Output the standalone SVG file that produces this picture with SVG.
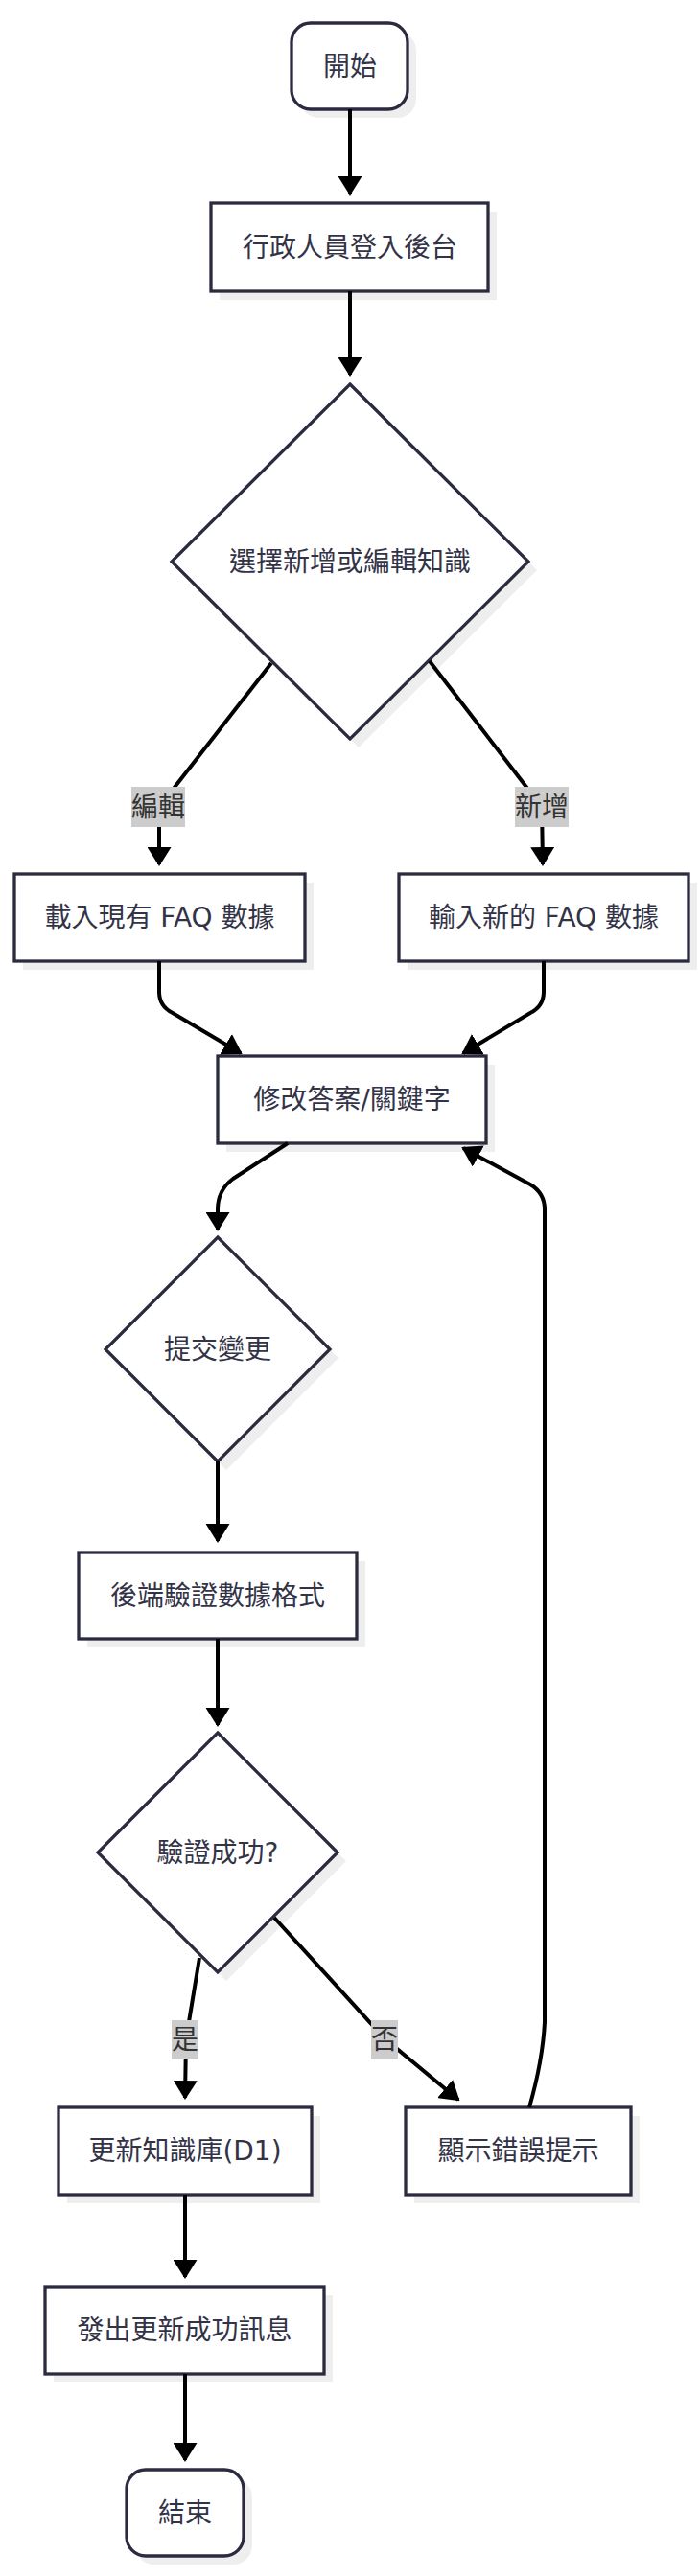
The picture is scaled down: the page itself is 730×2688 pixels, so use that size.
<svg xmlns="http://www.w3.org/2000/svg" width="730" height="2688" viewBox="0 0 730 2688">
<style>
.sh{fill:#eeeeee;stroke:none}
.nd{fill:#ffffff;stroke:#2b2b40;stroke-width:3.3}
.tx{font-family:"DejaVu Sans","Noto Sans CJK TC",sans-serif;font-size:28px;fill:#333347;text-anchor:middle;dominant-baseline:central}
.ed{fill:none;stroke:#000000;stroke-width:4}
.lb{fill:#cccccc;stroke:none}
.lt{font-family:"DejaVu Sans","Noto Sans CJK TC",sans-serif;font-size:28px;fill:#333333;text-anchor:middle;dominant-baseline:central}
</style>
<defs>
<marker id="arr" viewBox="0 0 20 25" refX="18" refY="12.5" markerWidth="20" markerHeight="25" markerUnits="userSpaceOnUse" orient="auto">
<path d="M0,0 L20,12.5 L0,25 z" fill="#000000"/>
</marker>
</defs>
<rect x="0" y="0" width="730" height="2688" fill="#ffffff"/>

<g id="n-start">
<rect class="sh" x="313" y="33" width="121" height="90" rx="20"/>
<rect class="nd" x="304" y="24" width="121" height="90" rx="20"/>
<text class="tx" x="365" y="69">開始</text>
</g>
<g id="n-login">
<rect class="sh" x="229" y="221" width="289" height="92"/>
<rect class="nd" x="220" y="212" width="289" height="92"/>
<text class="tx" x="365" y="258">行政人員登入後台</text>
</g>
<g id="n-choose">
<polygon class="sh" points="374,410 560,595 374,780 188,595"/>
<polygon class="nd" points="365,401 551,586 365,771 179,586"/>
<text class="tx" x="365" y="586">選擇新增或編輯知識</text>
</g>
<g id="n-load">
<rect class="sh" x="24" y="921" width="303" height="91"/>
<rect class="nd" x="15" y="912" width="303" height="91"/>
<text class="tx" x="166.5" y="957.5">載入現有 FAQ 數據</text>
</g>
<g id="n-input">
<rect class="sh" x="425" y="921" width="302" height="91"/>
<rect class="nd" x="416" y="912" width="302" height="91"/>
<text class="tx" x="567" y="957.5">輸入新的 FAQ 數據</text>
</g>
<g id="n-modify">
<rect class="sh" x="236" y="1111" width="280" height="91"/>
<rect class="nd" x="227" y="1102" width="280" height="91"/>
<text class="tx" x="367" y="1147.5">修改答案/關鍵字</text>
</g>
<g id="n-submit">
<polygon class="sh" points="236,1300 353,1417 236,1534 119,1417"/>
<polygon class="nd" points="227,1291 344,1408 227,1525 110,1408"/>
<text class="tx" x="227" y="1408">提交變更</text>
</g>
<g id="n-backend">
<rect class="sh" x="91" y="1629" width="290" height="90"/>
<rect class="nd" x="82" y="1620" width="290" height="90"/>
<text class="tx" x="227" y="1665">後端驗證數據格式</text>
</g>
<g id="n-valid">
<polygon class="sh" points="236,1817 361,1942 236,2067 111,1942"/>
<polygon class="nd" points="227,1808 352,1933 227,2058 102,1933"/>
<text class="tx" x="227" y="1933">驗證成功?</text>
</g>
<g id="n-update">
<rect class="sh" x="70" y="2208" width="264" height="91"/>
<rect class="nd" x="61" y="2199" width="264" height="91"/>
<text class="tx" x="193" y="2244.5">更新知識庫(D1)</text>
</g>
<g id="n-error">
<rect class="sh" x="432" y="2208" width="235" height="91"/>
<rect class="nd" x="423" y="2199" width="235" height="91"/>
<text class="tx" x="540.5" y="2244.5">顯示錯誤提示</text>
</g>
<g id="n-send">
<rect class="sh" x="56" y="2395" width="291" height="91"/>
<rect class="nd" x="47" y="2386" width="291" height="91"/>
<text class="tx" x="192.5" y="2431.5">發出更新成功訊息</text>
</g>
<g id="n-end">
<rect class="sh" x="141" y="2586" width="122" height="90" rx="20"/>
<rect class="nd" x="132" y="2577" width="122" height="90" rx="20"/>
<text class="tx" x="193" y="2622">結束</text>
</g>

<g id="connectors">
<path class="ed" marker-end="url(#arr)" d="M365,114 L365,202"/>
<path class="ed" marker-end="url(#arr)" d="M365,304 L365,391"/>
<path class="ed" marker-end="url(#arr)" d="M283,692 L166,842 L166,902"/>
<path class="ed" marker-end="url(#arr)" d="M448,690 L565,842 L566,902"/>
<path class="ed" marker-end="url(#arr)" d="M166,1003 L166,1035 Q166,1050 180,1057 L251,1099"/>
<path class="ed" marker-end="url(#arr)" d="M567,1003 L567,1035 Q567,1050 553,1057 L483,1099"/>
<path class="ed" marker-end="url(#arr)" d="M300,1193 L243,1230 Q227,1242 227,1262 L227,1283"/>
<path class="ed" marker-end="url(#arr)" d="M227,1525 L227,1608"/>
<path class="ed" marker-end="url(#arr)" d="M227,1710 L227,1800"/>
<path class="ed" marker-end="url(#arr)" d="M208,2043 L194,2128 L193,2189"/>
<path class="ed" marker-end="url(#arr)" d="M286,2001 L401,2127 L478,2191"/>
<path class="ed" marker-end="url(#arr)" d="M552,2199 Q566,2150 568,2110 L568,1262 Q568,1245 553,1236 L483,1198"/>
<path class="ed" marker-end="url(#arr)" d="M193,2290 L193,2376"/>
<path class="ed" marker-end="url(#arr)" d="M193,2477 L193,2567"/>
<g id="edge-labels">
<rect class="lb" x="137" y="821" width="56" height="42"/>
<text class="lt" x="165" y="842">編輯</text>
<rect class="lb" x="537" y="821" width="56" height="42"/>
<text class="lt" x="565" y="842">新增</text>
<rect class="lb" x="179" y="2108" width="28" height="41"/>
<text class="lt" x="193" y="2128.5">是</text>
<rect class="lb" x="387" y="2108" width="28" height="41"/>
<text class="lt" x="401" y="2128.5">否</text>
</g>
</g>
</svg>
